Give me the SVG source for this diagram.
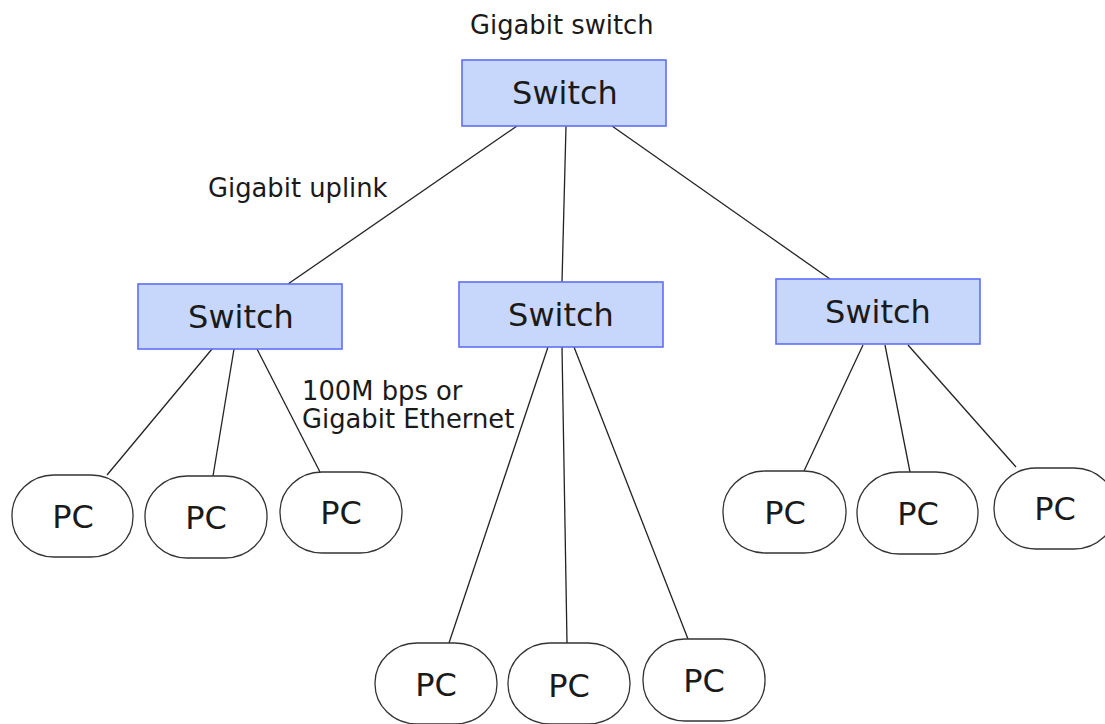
<svg xmlns="http://www.w3.org/2000/svg" width="1105" height="724" viewBox="0 0 1105 724">
<style>
.sw{fill:#c6d7fb;stroke:#5f6ef5;stroke-width:1.6}
.pc{fill:#fff;stroke:#333;stroke-width:1.3}
.t{font-family:"DejaVu Sans",Verdana,sans-serif;fill:#1a1a1a}
.big{font-size:32px;text-anchor:middle}
.lbl{font-size:25.8px}
.ln{stroke:#222;stroke-width:1.3;fill:none}
</style>
<rect width="1105" height="724" fill="#fff"/>
<g id="connectors">
<line class="ln" x1="517" y1="126" x2="288" y2="284"/>
<line class="ln" x1="566" y1="126" x2="562" y2="282"/>
<line class="ln" x1="612" y1="126" x2="830" y2="279"/>
<line class="ln" x1="212" y1="349" x2="107" y2="475"/>
<line class="ln" x1="234" y1="349" x2="213" y2="476"/>
<line class="ln" x1="257" y1="349" x2="320" y2="472"/>
<line class="ln" x1="548" y1="347" x2="449" y2="643"/>
<line class="ln" x1="562" y1="347" x2="567" y2="643"/>
<line class="ln" x1="574" y1="347" x2="688" y2="639"/>
<line class="ln" x1="863" y1="345" x2="804" y2="471"/>
<line class="ln" x1="885" y1="345" x2="910" y2="472"/>
<line class="ln" x1="908" y1="345" x2="1016" y2="467"/>
</g>
<g id="label-gigabit-switch"><text class="t lbl" x="470" y="34">Gigabit switch</text></g>
<g id="label-gigabit-uplink"><text class="t lbl" x="208" y="197">Gigabit uplink</text></g>
<g id="label-ethernet"><text class="t lbl" x="302" y="400">100M bps or</text><text class="t lbl" x="302" y="428">Gigabit Ethernet</text></g>
<g id="switch-top"><rect class="sw" x="462" y="60" width="204" height="66"/><text class="t big" x="565" y="104">Switch</text></g>
<g id="switch-left"><rect class="sw" x="138" y="284" width="204" height="65"/><text class="t big" x="241" y="328">Switch</text></g>
<g id="switch-mid"><rect class="sw" x="459" y="282" width="204" height="65"/><text class="t big" x="561" y="326">Switch</text></g>
<g id="switch-right"><rect class="sw" x="776" y="279" width="204" height="65"/><text class="t big" x="878" y="323">Switch</text></g>
<g id="pc-l1"><rect class="pc" x="12" y="475" width="121" height="82" rx="42" ry="40"/><text class="t big" x="73" y="528">PC</text></g>
<g id="pc-l2"><rect class="pc" x="145" y="476" width="122" height="82" rx="42" ry="40"/><text class="t big" x="206" y="529">PC</text></g>
<g id="pc-l3"><rect class="pc" x="280" y="472" width="122" height="81" rx="42" ry="40"/><text class="t big" x="341" y="524">PC</text></g>
<g id="pc-m1"><rect class="pc" x="375" y="643" width="122" height="81" rx="42" ry="40"/><text class="t big" x="436" y="696">PC</text></g>
<g id="pc-m2"><rect class="pc" x="508" y="643" width="122" height="81" rx="42" ry="40"/><text class="t big" x="569" y="697">PC</text></g>
<g id="pc-m3"><rect class="pc" x="643" y="639" width="122" height="82" rx="42" ry="40"/><text class="t big" x="704" y="692">PC</text></g>
<g id="pc-r1"><rect class="pc" x="723" y="471" width="123" height="82" rx="42" ry="40"/><text class="t big" x="785" y="524">PC</text></g>
<g id="pc-r2"><rect class="pc" x="857" y="472" width="121" height="82" rx="42" ry="40"/><text class="t big" x="918" y="525">PC</text></g>
<g id="pc-r3"><rect class="pc" x="994" y="468" width="122" height="81" rx="42" ry="40"/><text class="t big" x="1055" y="520">PC</text></g>
</svg>
